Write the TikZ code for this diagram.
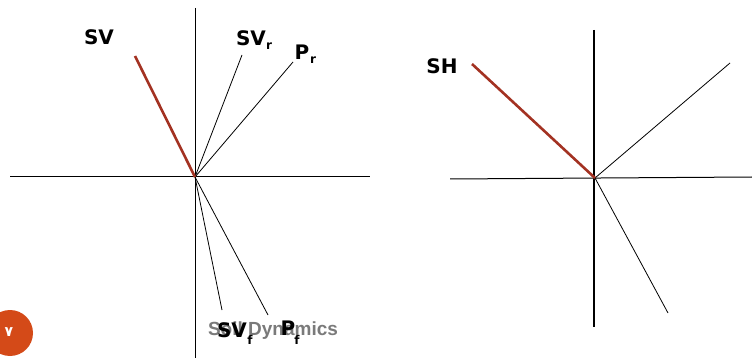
\documentclass[tikz,border=0pt]{standalone}
\usepackage{fontspec}
\setmainfont{DejaVu Sans}
\newfontfamily\labfont{DejaVu Sans}
\newfontfamily\titlefont{Liberation Sans}
\newfontfamily\arabicfont[Script=Arabic]{DejaVu Sans}
\TeXXeTstate=1
\definecolor{redline}{HTML}{A33222}
\definecolor{badge}{HTML}{D44A18}
\definecolor{greytxt}{HTML}{7A7A7A}
\begin{document}
\begin{tikzpicture}[x=1pt,y=-1pt,
  axis/.style={black,line width=1pt},
  thickaxis/.style={black,line width=2pt},
  thin/.style={black,line width=0.8pt},
  redvec/.style={redline,line width=2.6pt},
  lab/.style={inner sep=0pt,font=\labfont\bfseries\fontsize{20}{20}\selectfont},
  sublab/.style={inner sep=0pt,font=\labfont\bfseries\fontsize{12}{12}\selectfont}]
\useasboundingbox (0,0) rectangle (752,358);
% left diagram
\coordinate (O1) at (195,177);
\coordinate (hL1) at (10,177);
\coordinate (hR1) at (370,177);
\coordinate (vT1) at (195,8);
\coordinate (vB1) at (195,358);
\coordinate (SVend) at (135,56);
\coordinate (SVrend) at (242,55);
\coordinate (Prend) at (293,62);
\coordinate (SVfend) at (222,310);
\coordinate (Pfend) at (268,315);
\draw[axis] (hL1) -- (hR1);
\draw[axis] (vT1) -- (vB1);
\draw[thin] (O1) -- (SVrend);
\draw[thin] (O1) -- (Prend);
\draw[thin] (O1) -- (SVfend);
\draw[thin] (O1) -- (Pfend);
\draw[redvec] (SVend) -- (O1);
\node[lab] (sv) at (99,37) {SV};
\node[lab] (svr) at (251,38) {SV};
\node[sublab] (svrs) at (269,46) {r};
\node[lab] (pr) at (302,52) {P};
\node[sublab] (prs) at (313,60) {r};
% right diagram
\coordinate (O2) at (595,178);
\coordinate (hL2) at (450,179);
\coordinate (hR2) at (752,177);
\coordinate (vT2) at (594,30);
\coordinate (vB2) at (594,327);
\coordinate (SHend) at (472,64);
\coordinate (URend) at (730,63);
\coordinate (LRend) at (668,313);
\draw[axis] (hL2) -- (hR2);
\draw[thickaxis] (vT2) -- (vB2);
\draw[thin] (O2) -- (URend);
\draw[thin] (O2) -- (LRend);
\draw[redvec] (SHend) -- (O2);
\node[lab] (sh) at (442,66) {SH};
% footer
\node[inner sep=0pt,font=\titlefont\bfseries\fontsize{19}{19}\selectfont,text=greytxt] (title) at (273,331) {Soil Dynamics};
\node[lab] (svf) at (232,330) {SV};
\node[sublab] (svfs) at (250,340) {f};
\node[lab] (pf) at (288,328) {P};
\node[sublab] (pfs) at (297,340) {f};
\node[circle,fill=badge,minimum size=46pt,inner sep=0pt] (badgec) at (10,333) {};
\node[inner sep=0pt,text=white,font=\arabicfont\bfseries\fontsize{14}{14}\selectfont] (badgen) at (9,332) {\beginR ٧\endR};
\end{tikzpicture}
\end{document}
